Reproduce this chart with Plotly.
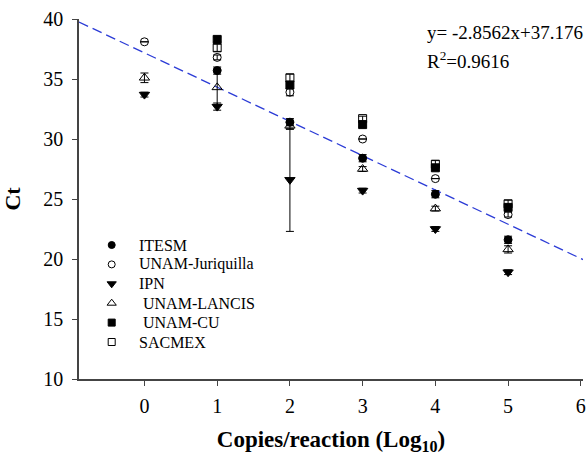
import plotly.graph_objects as go

# Data
labs = ["ITESM", "UNAM-Juriquilla", "IPN", " UNAM-LANCIS", " UNAM-CU", "SACMEX"]
x_itesm = [1, 2, 3, 4, 5]
y_itesm = [35.7, 31.4, 28.4, 25.4, 21.6]
e_itesm = [0.3, 0.3, 0.3, 0.3, 0.3]

x_juri = [0, 1, 2, 3, 4, 5]
y_juri = [38.1, 36.8, 33.9, 30.0, 26.7, 23.7]
e_juri = [0.0, 0.2, 0.3, 0.0, 0.0, 0.2]

x_ipn = [0, 1, 2, 3, 4, 5]
y_ipn = [33.7, 32.7, 26.6, 25.7, 22.5, 18.9]
e_ipn = [0.2, 0.3, 4.3, 0.2, 0.2, 0.2]

x_lancis = [0, 1, 2, 3, 4, 5]
y_lancis = [35.1, 34.3, 31.1, 27.5, 24.2, 20.8]
e_lancis = [0.4, 1.5, 0.3, 0.2, 0.2, 0.3]

x_cu = [1, 2, 3, 4, 5]
y_cu = [38.3, 34.5, 31.2, 27.6, 24.3]
e_cu = [0.2, 0.3, 0.2, 0.2, 0.2]

x_sac = [1, 2, 3, 4, 5]
y_sac = [37.6, 35.1, 31.7, 27.9, 24.6]
e_sac = [0.3, 0.3, 0.2, 0.3, 0.3]

slope = -2.8562
intercept = 37.176
fit_x = [-0.9, 6.03]
eq_text = "y= -2.8562x+37.176"
r2_text = "R<sup>2</sup>=0.9616"

x_ticks = [0, 1, 2, 3, 4, 5, 6]
y_ticks = [10, 15, 20, 25, 30, 35, 40]

FONT = "Liberation Serif, Times New Roman, serif"

W, H = 587, 457
ML, MR, MT, MB = 79, 4, 19, 78
PLOT_W = W - ML - MR
PLOT_H = H - MT - MB

fig = go.Figure()

fig.add_trace(go.Scatter(
    x=fit_x, y=[slope * v + intercept for v in fit_x], mode="lines",
    line=dict(color="#2b3bd6", width=1.3, dash="10px,5px"),
    showlegend=False, hoverinfo="skip"))

styles = ["circle", "circle-open", "triangle-down", "triangle-up-open",
          "square", "square-open"]
sizes = [8, 8, 9, 9, 8, 8]
series = [
    (x_itesm, y_itesm, e_itesm),
    (x_juri, y_juri, e_juri),
    (x_ipn, y_ipn, e_ipn),
    (x_lancis, y_lancis, e_lancis),
    (x_cu, y_cu, e_cu),
    (x_sac, y_sac, e_sac),
]
for i, (xs, ys, es) in enumerate(series):
    fig.add_trace(go.Scatter(
        x=xs, y=ys, mode="markers", name=labs[i].strip(), showlegend=False,
        marker=dict(symbol=styles[i], size=sizes[i], color="black",
                    line=dict(color="black", width=1)),
        error_y=dict(type="data", array=es, visible=True,
                     color="black", thickness=1, width=4),
    ))

# Custom legend drawn on an overlay axis in [0,1] units
leg_top_px = 245.0
leg_step_px = 19.4
for i, name in enumerate(labs):
    py = leg_top_px + i * leg_step_px
    yy = (H - MB - py) / PLOT_H
    fig.add_trace(go.Scatter(
        x=[(111.7 - ML) / PLOT_W], y=[yy], mode="markers", xaxis="x2", yaxis="y2",
        showlegend=False, hoverinfo="skip",
        marker=dict(symbol=styles[i], size=sizes[i] - 1, color="black",
                    line=dict(color="black", width=1))))
    txt = name.replace(" ", "\u00a0") if name.startswith(" ") else name
    fig.add_annotation(xref="paper", yref="paper", x=(137 - ML) / PLOT_W, y=yy,
                       xanchor="left", yanchor="middle", showarrow=False,
                       text=txt, font=dict(family=FONT, size=16, color="black"))

fig.add_annotation(xref="paper", yref="paper", x=0.687, y=0.962,
                   xanchor="left", yanchor="middle", showarrow=False,
                   text=eq_text, font=dict(family=FONT, size=19, color="black"))
fig.add_annotation(xref="paper", yref="paper", x=0.687, y=0.885,
                   xanchor="left", yanchor="middle", showarrow=False,
                   text=r2_text, font=dict(family=FONT, size=19, color="black"))

fig.update_layout(
    width=W, height=H,
    margin=dict(l=ML, r=MR, t=MT, b=MB),
    paper_bgcolor="white", plot_bgcolor="white",
    font=dict(family=FONT, size=16, color="black"),
    showlegend=False,
    xaxis=dict(range=[-0.9, 6.03], tickvals=x_ticks, automargin=False,
               showline=True, linecolor="#444", linewidth=1.5,
               ticks="outside", ticklen=5, tickcolor="#444",
               showgrid=False, zeroline=False, ticklabelstandoff=3,
               ticklabeloverflow="allow",
               tickfont=dict(family=FONT, size=20),
               title=dict(text="<b>Copies/reaction (Log<sub>10</sub>)</b>",
                          font=dict(family=FONT, size=23), standoff=15)),
    yaxis=dict(range=[10, 40], tickvals=y_ticks, automargin=False,
               showline=True, linecolor="#444", linewidth=1.5,
               ticks="outside", ticklen=5, tickcolor="#444",
               showgrid=False, zeroline=False, ticklabelstandoff=5,
               ticklabeloverflow="allow",
               tickfont=dict(family=FONT, size=20),
               title=dict(text="<b>Ct</b>",
                          font=dict(family=FONT, size=22), standoff=22)),
    xaxis2=dict(overlaying="x", range=[0, 1], visible=False),
    yaxis2=dict(overlaying="y", range=[0, 1], visible=False),
)

fig.write_html(
    "out.html",
    config={"displayModeBar": False},
    post_script="document.body.style.margin='0px';"
                "document.documentElement.style.overflow='hidden';",
)
